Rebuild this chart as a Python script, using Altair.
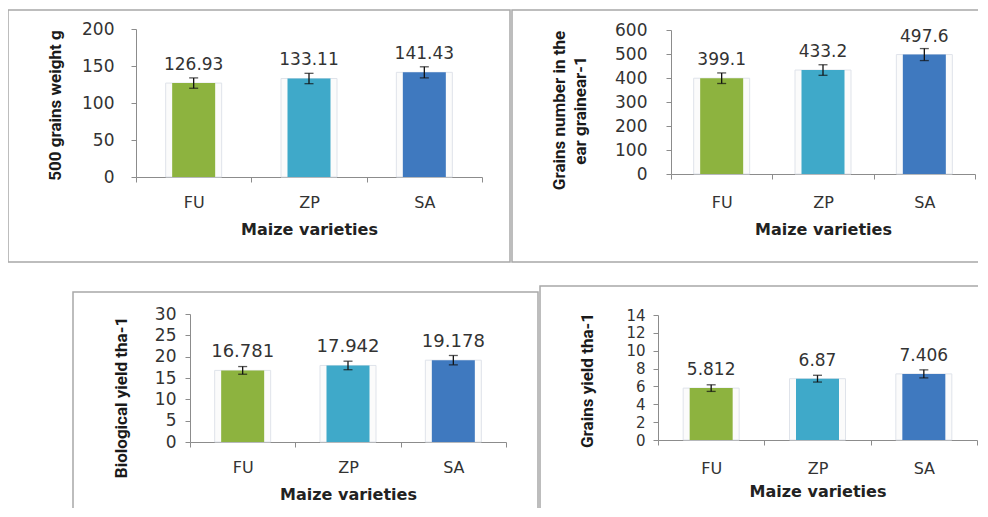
import altair as alt
import pandas as pd

categories = ["FU", "ZP", "SA"]
colors = ["#8db33f", "#3fa9c9", "#3f79bf"]

grain_weight = [126.93, 133.11, 141.43]
grain_weight_err = [7.0, 7.0, 7.5]
grain_weight_labels = ["126.93", "133.11", "141.43"]

grain_number = [399.1, 433.2, 497.6]
grain_number_err = [22, 22, 25]
grain_number_labels = ["399.1", "433.2", "497.6"]

bio_yield = [16.781, 17.942, 19.178]
bio_yield_err = [0.9, 1.0, 1.1]
bio_yield_labels = ["16.781", "17.942", "19.178"]

grain_yield = [5.812, 6.87, 7.406]
grain_yield_err = [0.37, 0.38, 0.45]
grain_yield_labels = ["5.812", "6.87", "7.406"]

NUM_FONT = "DejaVu Sans"
TITLE_FONT = "Liberation Sans Narrow, Arial Narrow, Roboto, Liberation Sans"
AXIS_GRAY = "#8c8c8c"
TEXT_COLOR = "#333333"


def panel(values, errs, labels, ymax, ystep, ytitle, box_w, box_h, plot,
          ytitle_pos, ytitle_size, tick_size, value_size, xlab_pad, xtitle_dy, ylab_pad):
    x0, x1, ybot, ytop = plot
    df = pd.DataFrame({
        "cat": categories,
        "value": values,
        "lo": [v - e for v, e in zip(values, errs)],
        "hi": [v + e for v, e in zip(values, errs)],
        "label": labels,
    })
    xscale = alt.Scale(type="band", domain=categories, range=[x0, x1],
                       paddingInner=0, paddingOuter=0)
    yscale = alt.Scale(domain=[0, ymax], range=[ybot, ytop], nice=False, zero=True)
    xaxis = alt.Axis(
        orient="bottom", offset=ybot - box_h, tickBand="extent", ticks=True,
        tickSize=5, tickColor=AXIS_GRAY, domainColor=AXIS_GRAY, grid=False,
        labelAngle=0, labelPadding=xlab_pad, labelFont=NUM_FONT,
        labelFontSize=16, labelColor=TEXT_COLOR,
        title="Maize varieties", titleFont=NUM_FONT, titleFontSize=16,
        titleFontWeight="bold", titleColor="#222222",
        titleX=(x0 + x1) / 2, titleY=xtitle_dy, titleAlign="center",
        titleBaseline="middle",
    )
    yaxis = alt.Axis(
        orient="left", offset=-x0, values=list(range(0, ymax + 1, ystep)),
        tickSize=5, tickColor=AXIS_GRAY, domainColor=AXIS_GRAY, grid=False,
        labelPadding=ylab_pad, labelFont=NUM_FONT, labelFontSize=tick_size,
        labelColor=TEXT_COLOR,
        title=ytitle, titleFont=TITLE_FONT, titleFontSize=ytitle_size,
        titleFontWeight="bold", titleColor="#1a1a1a", titleAngle=270,
        titleX=ytitle_pos[0] - x0, titleY=ytitle_pos[1], titleAlign="center",
        titleBaseline="middle", titleLineHeight=21,
    )
    x = alt.X("cat:N", sort=categories, scale=xscale, axis=xaxis)
    base = alt.Chart(df)
    halo = base.mark_bar(width=56, color="#fbfbfb", stroke="#dfe3ea", strokeWidth=1).encode(
        x=x, y=alt.Y("value:Q", scale=yscale, axis=yaxis))
    bars = base.mark_bar(width=43).encode(
        x=x, y=alt.Y("value:Q", scale=yscale, axis=yaxis),
        color=alt.Color("cat:N", scale=alt.Scale(domain=categories, range=colors), legend=None))
    rule = base.mark_rule(color="#111111", strokeWidth=1.3).encode(
        x=x, y=alt.Y("lo:Q", scale=yscale, axis=yaxis), y2="hi:Q")
    cap_lo = base.mark_tick(color="#111111", size=9, thickness=1.3).encode(
        x=x, y=alt.Y("lo:Q", scale=yscale, axis=yaxis))
    cap_hi = base.mark_tick(color="#111111", size=9, thickness=1.3).encode(
        x=x, y=alt.Y("hi:Q", scale=yscale, axis=yaxis))
    text = base.mark_text(dy=-18, baseline="middle", font=NUM_FONT, fontSize=value_size,
                          color=TEXT_COLOR).encode(
        x=x, y=alt.Y("value:Q", scale=yscale, axis=yaxis), text="label:N")
    return alt.layer(halo, bars, rule, cap_lo, cap_hi, text).properties(
        width=box_w, height=box_h)


p1 = panel(grain_weight, grain_weight_err, grain_weight_labels, 200, 50,
           "500 grains weight g", 502, 252, (128, 474, 167, 19),
           (47, 95), 17, 17, 17, 12, 52, 17)
p2 = panel(grain_number, grain_number_err, grain_number_labels, 600, 100,
           ["Grains number in the", "ear grainear-1"], 490, 252, (159, 463, 164, 20),
           (47, 100), 17, 17, 17, 15, 55, 19)
p3 = panel(bio_yield, bio_yield_err, bio_yield_labels, 30, 5,
           "Biological yield tha-1", 465, 240, (117, 433, 150, 22),
           (48, 105), 17, 17, 18, 12, 52, 9)
p4 = panel(grain_yield, grain_yield_err, grain_yield_labels, 14, 2,
           "Grains yield tha-1", 462, 245, (118, 437, 154, 29),
           (47, 94), 17, 15, 17, 15, 51, 8)


def spacer(w, h):
    return alt.Chart(pd.DataFrame({"a": [0]})).mark_point(opacity=0).encode(
        x=alt.value(0), y=alt.value(0)).properties(
        width=w, height=h, view=alt.ViewBackground(strokeOpacity=0))


row1 = alt.hconcat(p1, p2, spacing=0)
row2 = alt.hconcat(spacer(62, 5), alt.vconcat(spacer(10, 5), p3, spacing=0), p4, spacing=0)
chart = alt.vconcat(row1, row2, spacing=20).properties(
    padding={"top": 2, "left": 0, "right": 970, "bottom": 498},
    autosize=alt.AutoSizeParams(type="none"),
    background="white",
).configure_view(stroke="#a8a8a8", strokeWidth=1.5)

chart.save("out.html", embed_options={"renderer": "svg", "actions": False})
